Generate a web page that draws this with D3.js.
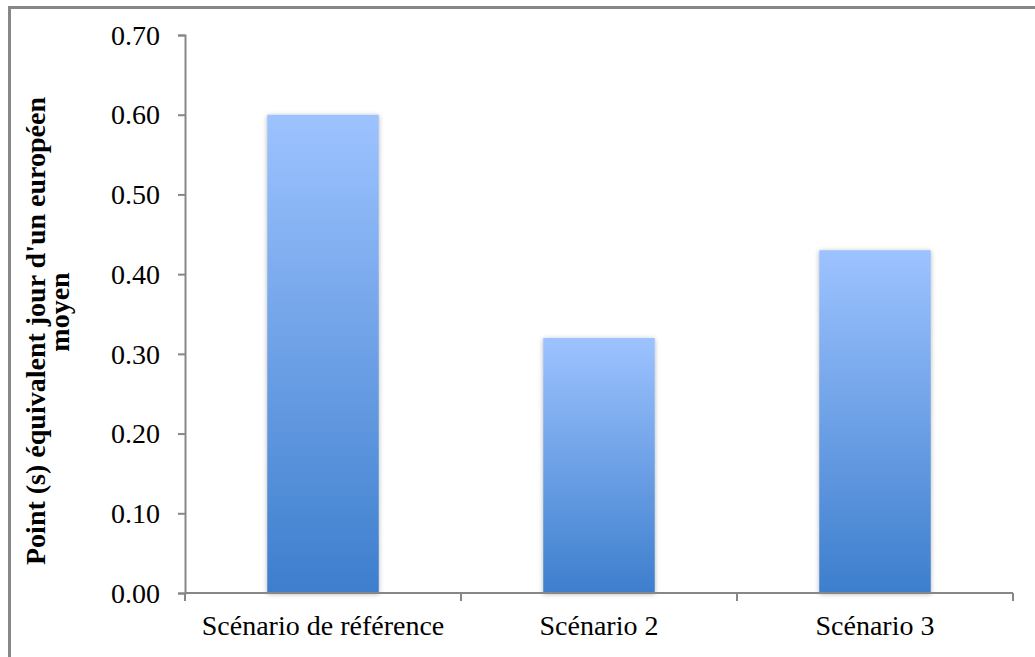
<!DOCTYPE html>
<html>
<head>
<meta charset="utf-8">
<script src="https://cdn.jsdelivr.net/npm/d3@7"></script>
<style>
  body { margin: 0; background: #fff; }
  svg { display: block; }
  text { font-family: "Liberation Serif", "Times New Roman", serif; fill: #000; }
</style>
</head>
<body>
<svg id="chart" width="1035" height="657"></svg>
<script>
// Données du graphique
const categories = ["Scénario de référence", "Scénario 2", "Scénario 3"];
const valeurs = [0.60, 0.32, 0.43];
const ticksY = [0, 0.1, 0.2, 0.3, 0.4, 0.5, 0.6, 0.7];
const titreY = ["Point (s) équivalent jour d'un européen", "moyen"];

const svg = d3.select("#chart");
const margin = { top: 35, right: 22, bottom: 64, left: 185 };
const width = 1035, height = 657;

// cadre gris autour du graphique
svg.append("rect")
    .attr("x", 9.5).attr("y", 7.5)
    .attr("width", 1040).attr("height", 670)
    .attr("fill", "none")
    .attr("stroke", "#878787")
    .attr("stroke-width", 3);

const x = d3.scaleBand()
    .domain(categories)
    .range([margin.left, width - margin.right])
    .padding(0);

const y = d3.scaleLinear()
    .domain([0, 0.7])
    .range([height - margin.bottom, margin.top]);

// dégradé des barres
const defs = svg.append("defs");
const grad = defs.append("linearGradient")
    .attr("id", "degrade")
    .attr("gradientUnits", "objectBoundingBox")
    .attr("x1", 0).attr("y1", 0).attr("x2", 0).attr("y2", 1);
grad.append("stop").attr("offset", "0%").attr("stop-color", "#9dc3ff");
grad.append("stop").attr("offset", "100%").attr("stop-color", "#3d7ecd");

const ombre = defs.append("filter")
    .attr("id", "ombre")
    .attr("x", "-10%").attr("y", "-10%").attr("width", "120%").attr("height", "120%");
ombre.append("feDropShadow")
    .attr("dx", 0).attr("dy", 1)
    .attr("stdDeviation", 2.5)
    .attr("flood-color", "#000")
    .attr("flood-opacity", 0.3);

// barres
const largeur = x.bandwidth() * 0.404;
svg.append("g")
    .selectAll("rect")
    .data(categories)
    .join("rect")
    .attr("x", d => x(d) + (x.bandwidth() - largeur) / 2)
    .attr("y", (d, i) => y(valeurs[i]))
    .attr("width", largeur)
    .attr("height", (d, i) => y(0) - y(valeurs[i]))
    .attr("fill", "url(#degrade)")
    .attr("filter", "url(#ombre)");

// axe Y
const yAxis = svg.append("g")
    .attr("transform", `translate(${margin.left},0)`)
    .call(d3.axisLeft(y).tickValues(ticksY).tickFormat(d3.format(".2f")).tickSizeOuter(0).tickSize(7).tickPadding(18));
yAxis.selectAll("line, path").attr("stroke", "#878787").attr("stroke-width", 2);
yAxis.selectAll("text")
    .style("font-size", "28px")
    .style("font-family", "Liberation Serif, serif")
    .attr("dy", "0.33em");

// axe X avec graduations aux limites des catégories
const xAxis = svg.append("g")
    .attr("transform", `translate(0,${y(0)})`);
xAxis.append("line")
    .attr("x1", margin.left).attr("x2", width - margin.right)
    .attr("stroke", "#878787").attr("stroke-width", 2);
const bornes = categories.map(d => x(d)).concat([x(categories[categories.length - 1]) + x.bandwidth()]);
xAxis.selectAll("line.tick")
    .data(bornes)
    .join("line")
    .attr("class", "tick")
    .attr("x1", d => d).attr("x2", d => d)
    .attr("y1", 0).attr("y2", 8)
    .attr("stroke", "#878787").attr("stroke-width", 2);
xAxis.selectAll("text")
    .data(categories)
    .join("text")
    .attr("x", d => x(d) + x.bandwidth() / 2)
    .attr("y", 42)
    .attr("text-anchor", "middle")
    .style("font-size", "28px")
    .text(d => d);

// titre de l'axe Y
const titre = svg.append("g");
titre.append("text")
    .attr("transform", "translate(45,331) rotate(-90)")
    .attr("text-anchor", "middle")
    .style("font-size", "28px")
    .style("font-weight", "bold")
    .text(titreY[0]);
titre.append("text")
    .attr("transform", "translate(69,312) rotate(-90)")
    .attr("text-anchor", "middle")
    .style("font-size", "28px")
    .style("font-weight", "bold")
    .text(titreY[1]);
</script>
</body>
</html>
